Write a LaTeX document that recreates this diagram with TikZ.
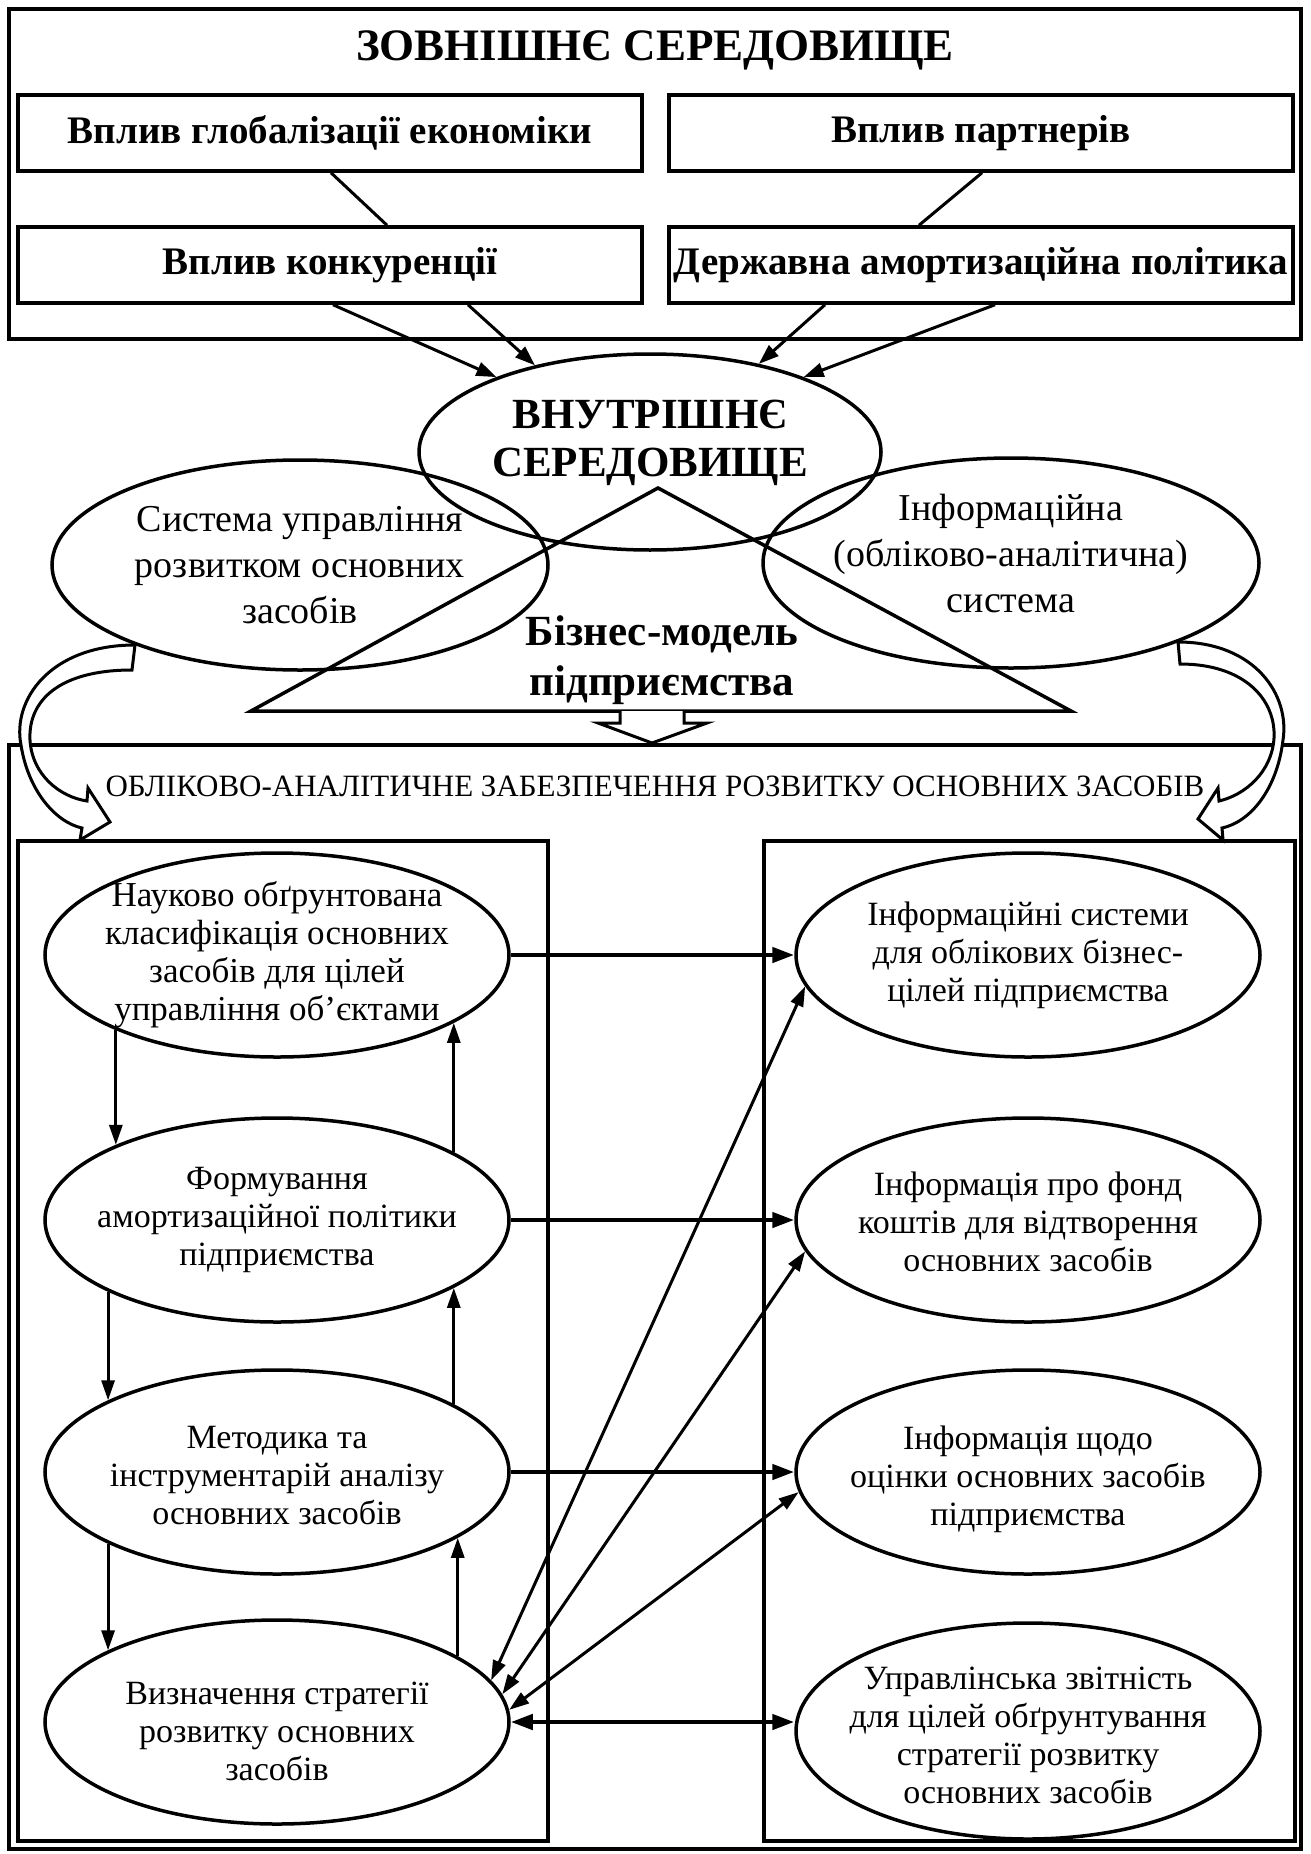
\documentclass[tikz,border=0pt]{standalone}
\usepackage{fontspec}
\setmainfont{Liberation Serif}
\usetikzlibrary{arrows.meta, shapes.geometric, positioning}
\tikzstyle{every picture} = [x=1pt, y=-1pt, node distance=751pt]
\tikzstyle{tbox} = [draw, line width=3.5pt, minimum width=624pt, minimum height=76pt, inner sep=0pt, font=\fontsize{39}{46}\selectfont\bfseries]
\tikzstyle{big ell} = [draw, ellipse, line width=3.5pt, minimum width=496pt, minimum height=210pt, inner sep=0pt]
\tikzstyle{small ell} = [draw, ellipse, line width=3.5pt, minimum width=464pt, minimum height=204pt, inner sep=0pt]
\tikzstyle{top text} = [align=center, inner sep=0pt, font=\fontsize{38}{46}\selectfont]
\tikzstyle{ell text} = [align=center, inner sep=0pt, font=\fontsize{34}{38}\selectfont]
\tikzstyle{bold text} = [align=center, inner sep=0pt, font=\fontsize{43}{48}\selectfont\bfseries]
\tikzstyle{frame} = [line width=3.5pt]
\tikzstyle{arr} = [line width=3pt, -{Triangle[length=20pt, width=14pt]}]
\tikzstyle{thin arr} = [line width=3pt, -{Triangle[length=20pt, width=13pt]}]
\tikzstyle{both arr} = [line width=3pt, {Triangle[length=20pt, width=13pt]}-{Triangle[length=20pt, width=13pt]}]
\tikzstyle{thick arr} = [line width=4.5pt, -{Triangle[length=22pt, width=15pt]}]
\tikzstyle{thick both} = [line width=4.5pt, {Triangle[length=22pt, width=15pt]}-{Triangle[length=22pt, width=15pt]}]
\tikzstyle{hollow arrow} = [line width=3pt, fill=white, line join=miter]

\begin{document}
\begin{tikzpicture}
    \useasboundingbox (0, 0) rectangle (1310, 1854);

    \draw[frame] (9, 9) rectangle (1301, 339);
    \node (outer title) at (655, 50) [bold text, font=\fontsize{45}{50}\selectfont\bfseries] {ЗОВНІШНЄ СЕРЕДОВИЩЕ};
    \node (box 1) at (330, 133) [tbox] {Вплив глобалізації економіки};
    \node (box 2) at (981, 133) [tbox] {Вплив партнерів};
    \node (box 3) at (330, 265) [tbox] {Вплив конкуренції};
    \node (box 4) at (981, 265) [tbox] {Державна амортизаційна політика};

    \node (sys) at (300, 565) [big ell, label={[top text]center:{Система управління\\розвитком основних\\засобів}}] {};
    \node (inf) at (1011, 563) [big ell, label={[top text, yshift=10pt]center:{Інформаційна\\(обліково-аналітична)\\система}}] {};
    \node (inner) at (650, 452) [draw, ellipse, line width=3.5pt, minimum width=462pt, minimum height=196pt, inner sep=0pt,
        label={[bold text, yshift=9pt]center:{ВНУТРІШНЄ\\СЕРЕДОВИЩЕ}}] {};

    \draw[frame, line join=miter] (658, 488) -- (1071, 711) -- (251, 711) -- cycle;
    \node (model) at (662, 660) [bold text, font=\fontsize{43}{50}\selectfont\bfseries] {Бізнес-модель\\підприємства};

    \path ([xshift=1pt]box 1.south) edge[line width=3pt] ([xshift=57pt]box 3.north)
          ([xshift=1pt]box 2.south) edge[line width=3pt] ([xshift=-62pt]box 4.north)
          ([xshift=3pt]box 3.south) edge[arr] (inner.154)
          ([xshift=138pt]box 3.south) edge[arr] (inner.143)
          ([xshift=-156pt]box 4.south) edge[arr] (inner.39)
          ([xshift=14pt]box 4.south) edge[arr] (inner.26);

    \draw[frame] (9, 745) rectangle (1301, 1849);
    \node (lower title) at (655, 786) [font=\fontsize{31}{34}\selectfont] {ОБЛІКОВО-АНАЛІТИЧНЕ ЗАБЕЗПЕЧЕННЯ РОЗВИТКУ ОСНОВНИХ ЗАСОБІВ};
    \draw[frame] (18, 841) rectangle (548, 1841);
    \draw[frame] (764, 841) rectangle (1295, 1841);

    \draw[hollow arrow] (620, 711) -- (620, 723) -- (598, 723) -- (652, 743) -- (707, 723) -- (684, 723) -- (684, 711);

    \draw[hollow arrow] (135, 645) .. controls (50, 645) and (12, 700) .. (21, 745)
        .. controls (28, 790) and (55, 822) .. (82, 828) -- (80, 840) -- (110, 822) -- (88, 788) -- (87, 801)
        .. controls (60, 797) and (32, 775) .. (30, 740) .. controls (28, 700) and (60, 670) .. (132, 670) -- cycle;
    \draw[hollow arrow] (1178, 642) .. controls (1255, 642) and (1290, 695) .. (1283, 740)
        .. controls (1277, 790) and (1250, 822) .. (1222, 828) -- (1223, 840) -- (1198, 819) -- (1218, 788) -- (1219, 801)
        .. controls (1245, 795) and (1272, 772) .. (1274, 738) .. controls (1276, 700) and (1245, 664) .. (1180, 664) -- cycle;

    \node (left 1) at (277, 955) [small ell, label={[ell text, font=\fontsize{35}{38}\selectfont]center:{Науково обґрунтована\\класифікація основних\\засобів для цілей\\управління об’єктами}}] {};
    \node (left 2) at (277, 1220) [small ell, label={[ell text]center:{Формування\\амортизаційної політики\\підприємства}}] {};
    \node (left 3) at (277, 1472) [small ell, label={[ell text, yshift=-4pt]center:{Методика та\\інструментарій аналізу\\основних засобів}}] {};
    \node (left 4) at (277, 1722) [small ell, label={[ell text, yshift=-9pt]center:{Визначення стратегії\\розвитку основних\\засобів}}] {};
    \node (right 1) [small ell, right of=left 1, label={[ell text]center:{Інформаційні системи\\для облікових бізнес-\\цілей підприємства}}] {};
    \node (right 2) [small ell, right of=left 2, label={[ell text, yshift=-2pt]center:{Інформація про фонд\\коштів для відтворення\\основних засобів}}] {};
    \node (right 3) [small ell, right of=left 3, label={[ell text, yshift=-7pt]center:{Інформація щодо\\оцінки основних засобів\\підприємства}}] {};
    \node (right 4) at (1028, 1731) [small ell, minimum height=216pt, label={[ell text, yshift=-4pt]center:{Управлінська звітність\\для цілей обґрунтування\\стратегії розвитку\\основних засобів}}] {};

    \path (left 1.205) edge[thin arr] (left 2.155)
          (left 2.21) edge[thin arr] (left 1.339)
          (left 2.203) edge[thin arr] (left 3.157)
          (left 3.21) edge[thin arr] (left 2.339)
          (left 3.203) edge[thin arr] (left 4.157)
          (left 4.20) edge[thin arr] (left 3.340);

    \path (left 1.east) edge[thick arr] (right 1.west)
          (left 2.east) edge[thick arr] (right 2.west)
          (left 3.east) edge[thick arr] (right 3.west)
          (left 4.east) edge[thick both] (left 4.east -| right 4.west);

    \path (left 4.11) edge[both arr] (right 1.188)
          (left 4.7) edge[both arr] (right 2.188)
          (left 4.3) edge[both arr] (right 3.185);
\end{tikzpicture}
\end{document}
